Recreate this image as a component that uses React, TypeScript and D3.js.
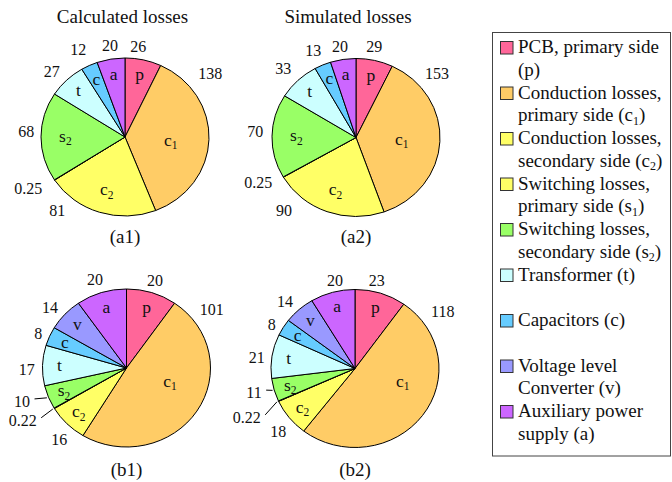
import React, { useEffect, useRef } from "react";
import * as d3 from "d3";

// slice order, clockwise from 12 o'clock
const keysA = ["p", "c1", "c2", "s1", "s2", "t", "c", "a"];
const keysB = ["p", "c1", "c2", "s1", "s2", "t", "c", "v", "a"];

// losses
const lossesA1 = [26, 138, 81, 0.25, 68, 27, 12, 20];
const lossesA2 = [29, 153, 90, 0.25, 70, 33, 13, 20];
const lossesB1 = [20, 101, 16, 0.22, 10, 17, 8, 14, 20];
const lossesB2 = [23, 118, 18, 0.22, 11, 21, 8, 14, 20];

const sliceLetters: Record<string, string> = {
  p: "p", c1: "c_1", c2: "c_2", s1: "", s2: "s_2", t: "t", c: "c", v: "v", a: "a",
};

const sliceColors: Record<string, string> = {
  p: "#ff6699", c1: "#ffcc66", c2: "#ffff66", s1: "#ffff66", s2: "#99ff66",
  t: "#ccffff", c: "#66ccff", v: "#9999ff", a: "#cc66ff",
};

const legendKeys = ["p", "c1", "c2", "s1", "s2", "t", "c", "v", "a"];
const legendLines = [
  ["PCB, primary side", "(p)"],
  ["Conduction losses,", "primary side (c_1)"],
  ["Conduction losses,", "secondary side (c_2)"],
  ["Switching losses,", "primary side (s_1)"],
  ["Switching losses,", "secondary side (s_2)"],
  ["Transformer (t)", ""],
  ["Capacitors (c)", ""],
  ["Voltage level", "Converter (v)"],
  ["Auxiliary power", "supply (a)"],
];

// label placement: [angle in degrees clockwise from top, distance from centre]
const numPosA1 = [[8.4, 91], [53.5, 106], [222.6, 100], [242, 109.5], [273.1, 99], [311.7, 98], [331.8, 98.7], [350.7, 93]];
const numPosA2 = [[11.3, 93], [51.8, 103], [224.5, 102.7], [245.2, 107.6], [273.3, 101], [313.6, 100.4], [333.8, 96.7], [350, 92]];
const numPosB1 = [[18.1, 92], [55.8, 103], [223, 98.5], [239.8, 103.9], [250.9, 102.1], [268.9, 99.8], [291.1, 94.5], [308.4, 97.7], [340.3, 93.5]];
const numPosB2 = [[13.9, 90.4], [57.1, 104.5], [230.5, 99.4], [242.6, 106.2], [255.5, 96.4], [276.5, 99], [297.6, 94], [313.7, 96.8], [347.2, 90]];

const FONT = "'Liberation Serif', 'Times New Roman', serif";
const RX = 84, RY = 79;

const pies = [
  { keys: keysA, values: lossesA1, cx: 125, cy: 137, caption: "(a1)", capY: 243, nums: numPosA1, c1At: [94.6, 45.8], leaders: [] as string[] },
  { keys: keysA, values: lossesA2, cx: 356, cy: 137.5, caption: "(a2)", capY: 243, nums: numPosA2, c1At: [93.1, 45.8], leaders: [] as string[] },
  { keys: keysB, values: lossesB1, cx: 126.5, cy: 368, caption: "(b1)", capY: 476, nums: numPosB1, c1At: [107.5, 45.6], leaders: ["s1", "s2"] },
  { keys: keysB, values: lossesB2, cx: 355, cy: 368.5, caption: "(b2)", capY: 476, nums: numPosB2, c1At: [105.5, 49.5], leaders: ["s1", "s2"] },
];

// writes "c_1" style strings as tspans with a subscript
function richText(sel: any, str: string, subSize: number, shift: number) {
  const parts = str.split(/(_.)/).filter((s) => s !== "");
  let down = false;
  parts.forEach((part) => {
    if (part[0] === "_") {
      sel.append("tspan").attr("font-size", subSize).attr("dy", shift).text(part[1]);
      down = true;
    } else {
      const t = sel.append("tspan").text(part);
      if (down) { t.attr("dy", -shift); down = false; }
    }
  });
}

export default function App() {
  const ref = useRef<SVGSVGElement>(null);

  useEffect(() => {
    const svg = d3.select(ref.current);
    svg.selectAll("*").remove();

    const label = (parent: any, x: number, y: number, size: number) =>
      parent.append("text").attr("x", x).attr("y", y)
        .attr("font-family", FONT).attr("font-size", size).attr("fill", "#111");

    // titles
    label(svg, 122.5, 23.3, 19).attr("text-anchor", "middle").text("Calculated losses");
    label(svg, 348, 23.3, 19).attr("text-anchor", "middle").text("Simulated losses");

    const arc = d3.arc<any>().innerRadius(0).outerRadius(RX);
    const rad = (deg: number) => (deg * Math.PI) / 180;

    pies.forEach((pc) => {
      const data = pc.keys.map((k, i) => ({ key: k, value: pc.values[i] }));
      const arcs = d3.pie<any>().sort(null).value((d) => d.value)(data);

      const g = svg.append("g").attr("transform", `translate(${pc.cx},${pc.cy})`);
      g.append("g").attr("transform", `scale(1,${RY / RX})`)
        .selectAll("path")
        .data(arcs)
        .join("path")
        .attr("d", arc)
        .attr("fill", (d: any) => sliceColors[d.data.key])
        .attr("stroke", "#000")
        .attr("stroke-width", 1)
        .attr("vector-effect", "non-scaling-stroke");

      // letters inside slices
      arcs.forEach((a: any) => {
        const txt = sliceLetters[a.data.key];
        if (!txt) return;
        let x: number, y: number;
        if (a.data.key === "c1") {
          x = pc.c1At[1] * Math.sin(rad(pc.c1At[0]));
          y = -pc.c1At[1] * Math.cos(rad(pc.c1At[0]));
        } else {
          const mid = (a.startAngle + a.endAngle) / 2;
          const frac = a.endAngle - a.startAngle > rad(45) ? 0.71 : 0.8;
          x = RX * frac * Math.sin(mid);
          y = -RY * frac * Math.cos(mid);
        }
        const t = label(g, x, y, 17.5).attr("dy", "0.28em").attr("text-anchor", "middle");
        richText(t, txt, 11.5, 3.5);
      });

      // value labels
      arcs.forEach((a: any, i: number) => {
        const [ang, dist] = pc.nums[i];
        const x = dist * Math.sin(rad(ang));
        const y = -dist * Math.cos(rad(ang));
        const lead = pc.leaders.includes(a.data.key);
        label(g, x, y, 16).attr("dy", "0.33em")
          .attr("text-anchor", lead ? "end" : "middle")
          .text(String(a.data.value));
        if (lead) {
          const mid = (a.startAngle + a.endAngle) / 2;
          g.append("line")
            .attr("x1", x + 4.5).attr("y1", y - 2.5)
            .attr("x2", RX * 1.02 * Math.sin(mid)).attr("y2", -RY * 1.02 * Math.cos(mid))
            .attr("stroke", "#000").attr("stroke-width", 1);
        }
      });

      label(svg, pc.cx, pc.capY, 19).attr("text-anchor", "middle").text(pc.caption);
    });

    // legend
    const lg = svg.append("g");
    lg.append("rect").attr("x", 492.5).attr("y", 32.5).attr("width", 178).attr("height", 423.5)
      .attr("fill", "none").attr("stroke", "#444").attr("stroke-width", 1);
    legendKeys.forEach((k, i) => {
      const base = 53 + i * 45.5;
      lg.append("rect").attr("x", 500.5).attr("y", base - 11.5).attr("width", 12.5).attr("height", 12.5)
        .attr("fill", sliceColors[k]).attr("stroke", "#333").attr("stroke-width", 1);
      legendLines[i].forEach((line, j) => {
        if (!line) return;
        const t = label(lg, 518, base + j * 22.7, 19);
        richText(t, line, 12, 3.5);
      });
    });
  }, []);

  return (
    <svg
      ref={ref}
      width={672}
      height={482}
      style={{ position: "absolute", left: 0, top: 0, background: "#fff" }}
    />
  );
}
